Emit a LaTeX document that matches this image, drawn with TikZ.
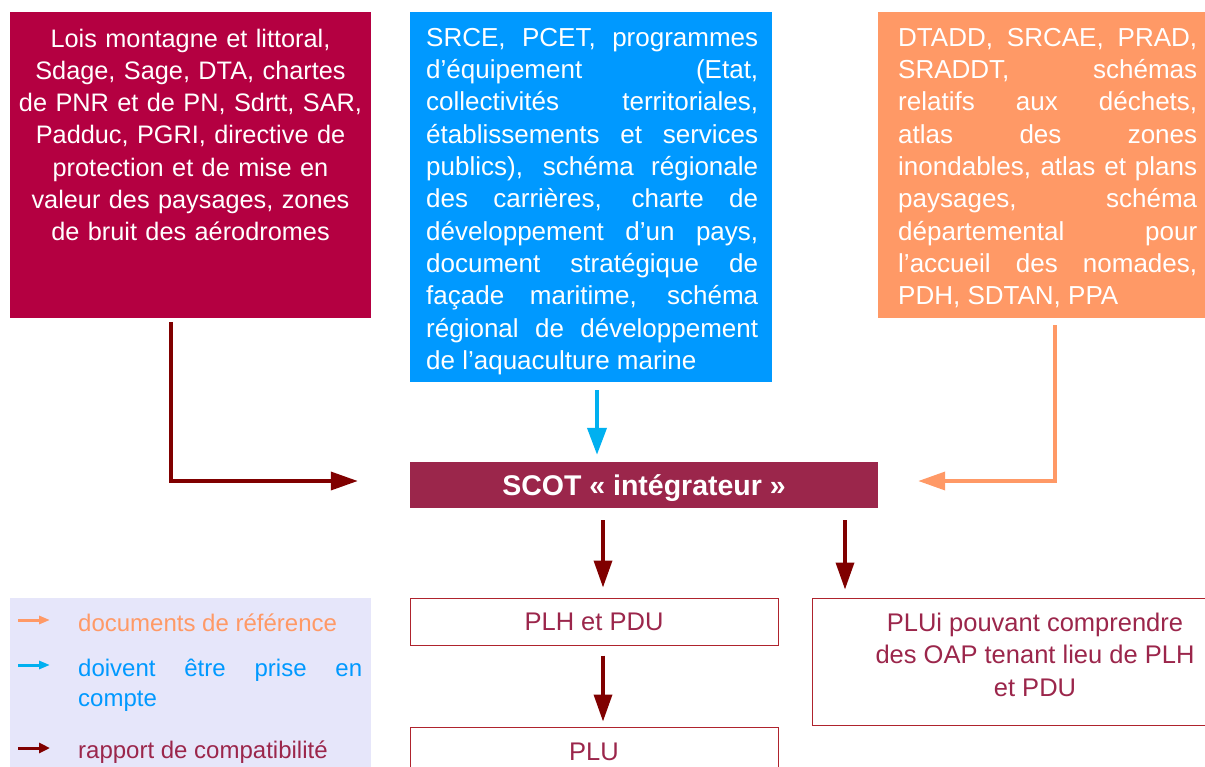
\documentclass[tikz,border=0pt]{standalone}
\usepackage{fontspec}
\setmainfont{Liberation Sans}
\usetikzlibrary{arrows.meta}

\definecolor{loisred}{RGB}{180,0,65}
\definecolor{srceblue}{RGB}{0,153,255}
\definecolor{dtaddorange}{RGB}{255,153,102}
\definecolor{scotred}{RGB}{155,38,75}
\definecolor{compatred}{RGB}{128,0,0}
\definecolor{priseblue}{RGB}{0,176,240}
\definecolor{boxborder}{RGB}{175,35,45}
\definecolor{legendbg}{RGB}{230,230,250}

\begin{document}
\begin{tikzpicture}[x=1pt,y=-1pt,
    panel/.style={rectangle,inner sep=0pt},
    paneltext/.style={text=white,inner sep=0pt,font=\fontsize{26}{32.3}\selectfont,
      execute at begin node={\tolerance=10000\hbadness=10000}},
    outbox/.style={rectangle,draw=boxborder,line width=1pt,inner sep=0pt,text=scotred,
      font=\fontsize{25.5}{32.5}\selectfont},
    outtext/.style={inner sep=0pt,text=scotred,font=\fontsize{25.5}{32.5}\selectfont},
    legtext/.style={inner sep=0pt,font=\fontsize{24}{30}\selectfont},
    compat/.style={draw=compatred,line width=3.5pt,-{Triangle[length=27pt,width=18pt]}},
    prise/.style={draw=priseblue,line width=4pt,-{Triangle[length=27pt,width=19pt]}},
    refdoc/.style={draw=dtaddorange,line width=3.5pt,-{Triangle[length=27pt,width=18pt]}},
    legarrow/.style={line width=3pt,-{Triangle[length=11pt,width=8pt]}}]
    \useasboundingbox (0,0) rectangle (1205,766);
    \node[panel,fill=loisred,minimum width=361pt,minimum height=306pt] (lois) at (190.5,165) {};
    \node[panel,fill=srceblue,minimum width=362pt,minimum height=370pt] (srce) at (591,197) {};
    \node[panel,fill=dtaddorange,minimum width=327pt,minimum height=306pt] (dtadd) at (1041.5,165) {};
    \node[paneltext,align=center,text width=359pt,anchor=north,font=\fontsize{25.3}{32.3}\selectfont] (loistxt) at (190.5,28.5)
      {Lois montagne et littoral,\\Sdage, Sage, DTA, chartes\\de PNR et de PN, Sdrtt, SAR,\\
       Padduc, PGRI, directive de\\protection et de mise en\\valeur des paysages, zones\\
       de bruit des aérodromes};
    \node[paneltext,align=justify,text width=332pt,anchor=north west] (srcetxt) at (426,28)
      {SRCE, PCET, programmes\linebreak d’équipement (Etat,\linebreak
       collectivités territoriales,\linebreak établissements et services\linebreak
       publics), schéma régionale\linebreak des carrières, charte de\linebreak
       développement d’un pays,\linebreak document stratégique de\linebreak
       façade maritime, schéma\linebreak régional de développement\linebreak
       de l’aquaculture marine};
    \node[paneltext,align=justify,text width=299pt,anchor=north west] (dtaddtxt) at (898,28)
      {DTADD, SRCAE, PRAD,\linebreak SRADDT, schémas\linebreak relatifs aux déchets,\linebreak
       atlas des zones\linebreak inondables, atlas et plans\linebreak paysages, schéma\linebreak
       départemental pour\linebreak l’accueil des nomades,\linebreak PDH, SDTAN, PPA};
    \node[panel,fill=scotred,minimum width=468pt,minimum height=46pt,text=white,text depth=0pt,
      font=\fontsize{28.5}{32}\selectfont\bfseries] (scot) at (644,485) {SCOT~«~intégrateur~»};
    \node[outbox,minimum width=368pt,minimum height=47pt] (plh) at (594,621.5) {PLH et PDU};
    \node[outbox,minimum width=368pt,minimum height=50pt] (plu) at (594,752) {PLU};
    \node[outbox,minimum width=403pt,minimum height=127pt] (plui) at (1013.5,661.5) {};
    \node[outtext,align=center] (pluitxt) at (1035,654.5)
      {PLUi pouvant comprendre\\des OAP tenant lieu de PLH\\et PDU};
    \node[panel,fill=legendbg,minimum width=361pt,minimum height=182pt] (legend) at (190.5,689) {};
    \node[legtext,text=dtaddorange,anchor=base west] (legref) at (78,631) {documents de référence};
    \node[legtext,text=srceblue,align=justify,text width=284pt,anchor=north west] (legprise) at (78,659)
      {doivent être prise en compte};
    \node[legtext,text=scotred,anchor=base west] (legcompat) at (78,758) {rapport de compatibilité};
    \coordinate (arrref) at (18,620);
    \coordinate (arrprise) at (18,665);
    \coordinate (arrcompat) at (18,748);
    \draw[legarrow,draw=dtaddorange] (arrref) -- ++(32,0);
    \draw[legarrow,draw=priseblue] (arrprise) -- ++(32,0);
    \draw[legarrow,draw=compatred,-{Triangle[length=11pt,width=10pt]}] (arrcompat) -- ++(32,0);
    \draw[compat] ([xshift=-19.5pt,yshift=-4pt]lois.south) |- ([xshift=-52pt,yshift=4pt]scot.west);
    \draw[prise] ([xshift=6pt,yshift=-8pt]srce.south) -- ([xshift=-47pt,yshift=7pt]scot.north);
    \draw[refdoc] ([xshift=13.5pt,yshift=-7pt]dtadd.south) |- ([xshift=40pt,yshift=4pt]scot.east);
    \draw[compat] ([xshift=-41pt,yshift=-12pt]scot.south) -- ([xshift=9pt,yshift=10pt]plh.north);
    \draw[compat] ([xshift=201pt,yshift=-12pt]scot.south) -- ([xshift=-168.5pt,yshift=8pt]plui.north);
    \draw[compat] ([xshift=9pt,yshift=-10pt]plh.south) -- ([xshift=9pt,yshift=5pt]plu.north);
\end{tikzpicture}
\end{document}
